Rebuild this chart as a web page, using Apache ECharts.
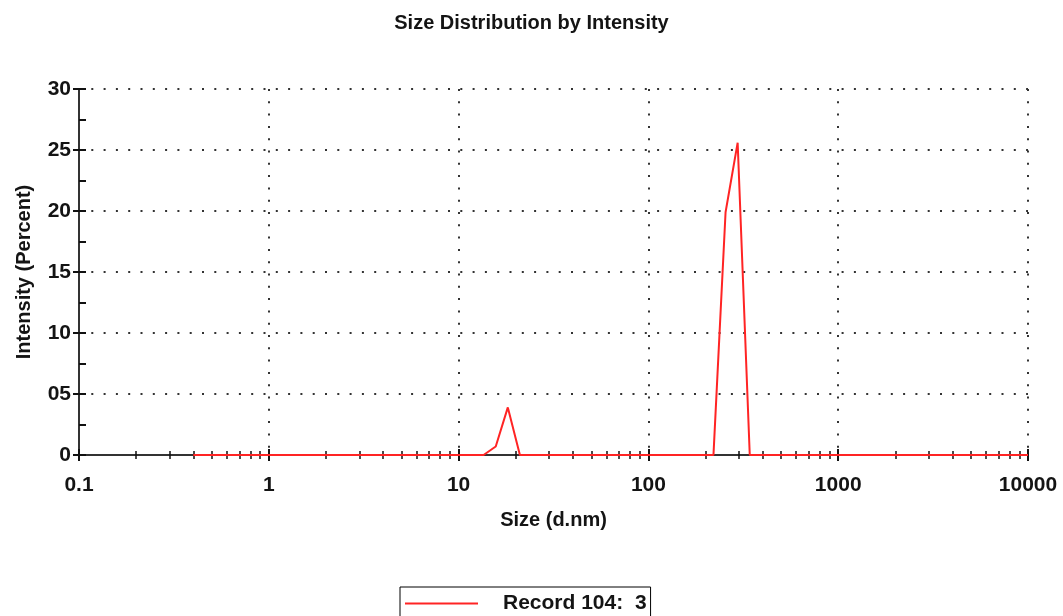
<!DOCTYPE html>
<html>
<head>
<meta charset="utf-8">
<script src="https://cdn.jsdelivr.net/npm/echarts@6/dist/echarts.min.js"></script>
<style>html,body{margin:0;padding:0;background:#fff}#c{width:1063px;height:616px}</style>
</head>
<body>
<div id="c"></div>
<script>
// Size bins (d.nm)
var sizes = [0.4, 0.4632, 0.5365, 0.6213, 0.7195, 0.8332, 0.9649, 1.117, 1.294, 1.499,
  1.736, 2.01, 2.328, 2.696, 3.122, 3.615, 4.187, 4.849, 5.615, 6.503,
  7.531, 8.721, 10.1, 11.7, 13.54, 15.69, 18.17, 21.04, 24.36, 28.21,
  32.67, 37.84, 43.82, 50.75, 58.77, 68.06, 78.82, 91.28, 105.7, 122.4,
  141.8, 164.2, 190.1, 220.2, 255.0, 295.3, 342.0, 396.1, 458.7, 531.2,
  615.1, 712.4, 825.0, 955.4, 1106, 1281, 1484, 1718, 1990, 2305,
  2669, 3091, 3580, 4145, 4801, 5560, 6439, 7456, 8635, 10000];
// Intensity (Percent) - nonzero bins
var intensity = [0, 0, 0, 0, 0, 0, 0, 0, 0, 0,
  0, 0, 0, 0, 0, 0, 0, 0, 0, 0,
  0, 0, 0, 0, 0, 0.7, 3.9, 0, 0, 0,
  0, 0, 0, 0, 0, 0, 0, 0, 0, 0,
  0, 0, 0, 0, 19.9, 25.6, 0, 0, 0, 0,
  0, 0, 0, 0, 0, 0, 0, 0, 0, 0,
  0, 0, 0, 0, 0, 0, 0, 0, 0, 0];
var yTickLabels = {0: '0', 5: '05', 10: '10', 15: '15', 20: '20', 25: '25', 30: '30'};
var seriesName = 'Record 104:  3';

var pts = sizes.map(function (s, i) { return [s, intensity[i]]; });
var FONT = 'Liberation Sans, Arial, sans-serif';
var TXT = '#141414';
var DOT = {color: '#333', type: [2, 10.3], width: 2};
var chart = echarts.init(document.getElementById('c'), null, {renderer: 'canvas'});
chart.setOption({
  animation: false,
  title: {
    text: 'Size Distribution by Intensity', left: 'center', top: 8,
    textStyle: {fontFamily: FONT, fontSize: 20, fontWeight: 'bold', color: TXT}
  },
  grid: {left: 79, right: 35, top: 89, bottom: 161, containLabel: false, outerBoundsMode: 'none'},
  legend: {
    top: 587, left: 400, orient: 'horizontal',
    borderColor: '#000', borderWidth: 1, padding: [6, 4, 12, 5],
    itemWidth: 73, itemHeight: 14,
    textStyle: {fontFamily: FONT, fontSize: 21, fontWeight: 'bold', color: TXT, padding: [0, 0, 0, 20]},
    data: [{name: seriesName, icon: 'path://M0,6 L73,6 L73,8 L0,8 Z'}]
  },
  xAxis: [{
    type: 'log', logBase: 10, min: 0.1, max: 10000,
    name: 'Size (d.nm)', nameLocation: 'middle', nameGap: 55,
    nameTextStyle: {fontFamily: FONT, fontSize: 20, fontWeight: 'bold', color: TXT},
    axisLine: {lineStyle: {color: '#333', width: 2}},
    axisTick: {show: true, length: 6, lineStyle: {color: '#111', width: 2}},
    minorTick: {show: true, splitNumber: 9, length: 4, lineStyle: {color: '#111', width: 1.5}},
    axisLabel: {fontFamily: FONT, fontSize: 21, fontWeight: 'bold', color: TXT, margin: 20,
      formatter: function (v) { return String(v); }},
    splitLine: {show: true, lineStyle: DOT}
  }, {
    type: 'log', logBase: 10, min: 0.1, max: 10000, position: 'bottom',
    axisLine: {show: false}, axisLabel: {show: false}, splitLine: {show: false},
    axisTick: {show: true, inside: true, length: 6, lineStyle: {color: '#111', width: 2}},
    minorTick: {show: true, splitNumber: 9, length: 4, lineStyle: {color: '#111', width: 1.5}}
  }],
  yAxis: [{
    type: 'value', min: 0, max: 30, interval: 5,
    name: 'Intensity (Percent)', nameLocation: 'middle', nameGap: 45,
    nameTextStyle: {fontFamily: FONT, fontSize: 20, fontWeight: 'bold', color: TXT},
    axisLine: {show: true, lineStyle: {color: '#333', width: 2}},
    axisTick: {show: true, length: 6, lineStyle: {color: '#111', width: 2}},
    axisLabel: {fontFamily: FONT, fontSize: 21, fontWeight: 'bold', color: TXT, margin: 8,
      formatter: function (v) { return yTickLabels[v] !== undefined ? yTickLabels[v] : v; }},
    splitLine: {show: true, lineStyle: DOT}
  }, {
    type: 'value', min: 0, max: 30, interval: 2.5, position: 'left',
    axisLine: {show: false}, axisLabel: {show: false}, splitLine: {show: false},
    axisTick: {show: true, inside: true, length: 7, lineStyle: {color: '#111', width: 2}}
  }],
  series: [{
    name: seriesName, type: 'line', data: pts, showSymbol: false, symbol: 'none',
    xAxisIndex: 0, yAxisIndex: 0,
    lineStyle: {color: '#ff2424', width: 2}, itemStyle: {color: '#ff2424'}, z: 5
  }]
});
</script>
</body>
</html>
